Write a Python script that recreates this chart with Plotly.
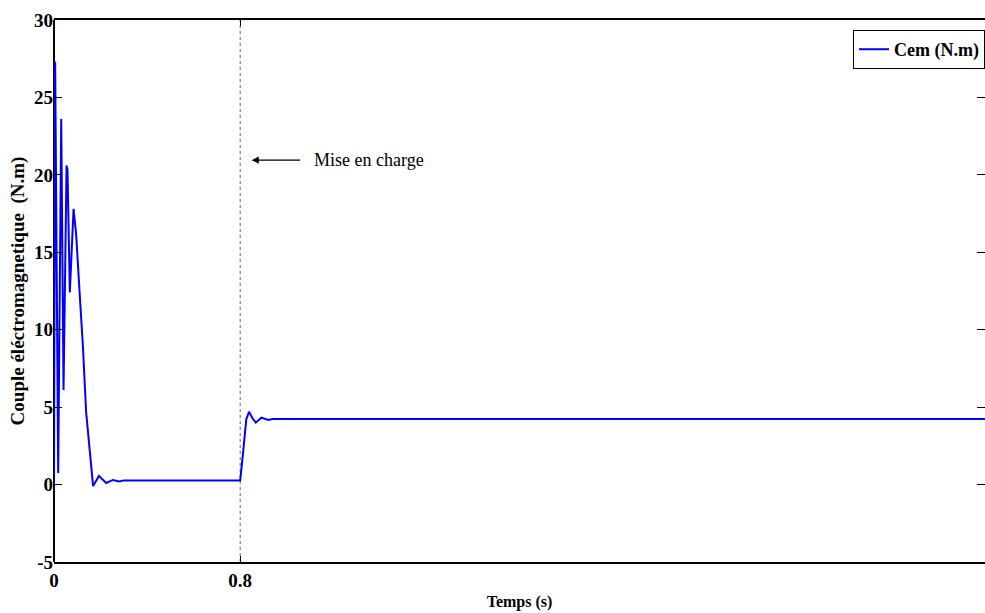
import plotly.graph_objects as go

# Data (time in s, electromagnetic torque in N.m)
time_s = [0.0, 0.005, 0.018, 0.031, 0.041, 0.054, 0.058, 0.068, 0.084, 0.095,
          0.11, 0.124, 0.138, 0.153, 0.164, 0.168, 0.193, 0.224, 0.253, 0.28,
          0.30, 0.80, 0.812, 0.826, 0.838, 0.852, 0.867, 0.891, 0.92, 0.94, 4.0]
torque = [0.0, 27.3, 0.75, 23.6, 6.1, 20.6, 20.3, 12.4, 17.8, 16.2,
          12.4, 9.0, 4.7, 2.4, 0.5, -0.1, 0.56, 0.1, 0.3, 0.2,
          0.27, 0.27, 2.0, 4.2, 4.7, 4.3, 4.0, 4.32, 4.17, 4.23, 4.23]

x_tick_vals = [0, 0.8]
x_tick_text = ["0", "0.8"]
y_tick_vals = [-5, 0, 5, 10, 15, 20, 25, 30]
y_tick_text = ["-5", "0", "5", "10", "15", "20", "25", "30"]

load_time = 0.8
arrow_tip = (0.849, 20.95)
label_pos = (1.108, 20.95)

FONT = "Liberation Serif"

fig = go.Figure()
fig.add_trace(go.Scatter(
    x=time_s, y=torque, mode="lines",
    name="<b>Cem (N.m)</b>",
    line=dict(color="#0000ff", width=2),
))

fig.add_shape(type="line", x0=load_time, x1=load_time, xref="x",
              y0=0, y1=1, yref="paper",
              line=dict(color="#666666", width=1, dash="dot"), layer="below")

fig.add_annotation(x=arrow_tip[0], y=arrow_tip[1], text="", showarrow=True,
                   ax=50, ay=0, arrowhead=2, arrowsize=1.2, arrowwidth=1.2,
                   arrowcolor="black")
fig.add_annotation(x=label_pos[0], y=label_pos[1], text="Mise en charge",
                   showarrow=False, xanchor="left", yanchor="middle",
                   font=dict(family=FONT, size=18, color="black"))

fig.update_layout(
    width=985, height=613,
    margin=dict(l=54, r=0, t=20, b=51),
    paper_bgcolor="white", plot_bgcolor="white",
    font=dict(family=FONT, color="black"),
    showlegend=True,
    legend=dict(x=1, xanchor="right", y=0.9815, yanchor="top",
                bgcolor="white", bordercolor="black", borderwidth=1,
                font=dict(family=FONT, size=18, color="black")),
    xaxis=dict(range=[0, 4], tickvals=x_tick_vals,
               ticktext=["<b>%s</b>" % t for t in x_tick_text],
               ticks="inside", ticklen=6, tickcolor="black",
               showline=True, linecolor="black", linewidth=1.5, mirror="ticks",
               showgrid=False, zeroline=True, zerolinecolor="black",
               zerolinewidth=1.5,
               tickfont=dict(family=FONT, size=19, color="black"),
               title=dict(text="<b>Temps (s)</b>", standoff=6,
                          font=dict(family=FONT, size=16, color="black"))),
    yaxis=dict(range=[-5, 30], tickvals=y_tick_vals,
               ticktext=["<b>%s</b>" % t for t in y_tick_text],
               ticks="inside", ticklen=8, tickcolor="black",
               showline=False, mirror="ticks",
               showgrid=False, zeroline=False,
               tickfont=dict(family=FONT, size=19, color="black"),
               title=dict(text="<b>Couple éléctromagnetique  (N.m)</b>", standoff=4,
                          font=dict(family=FONT, size=19, color="black"))),
)

fig.write_html("out.html")
